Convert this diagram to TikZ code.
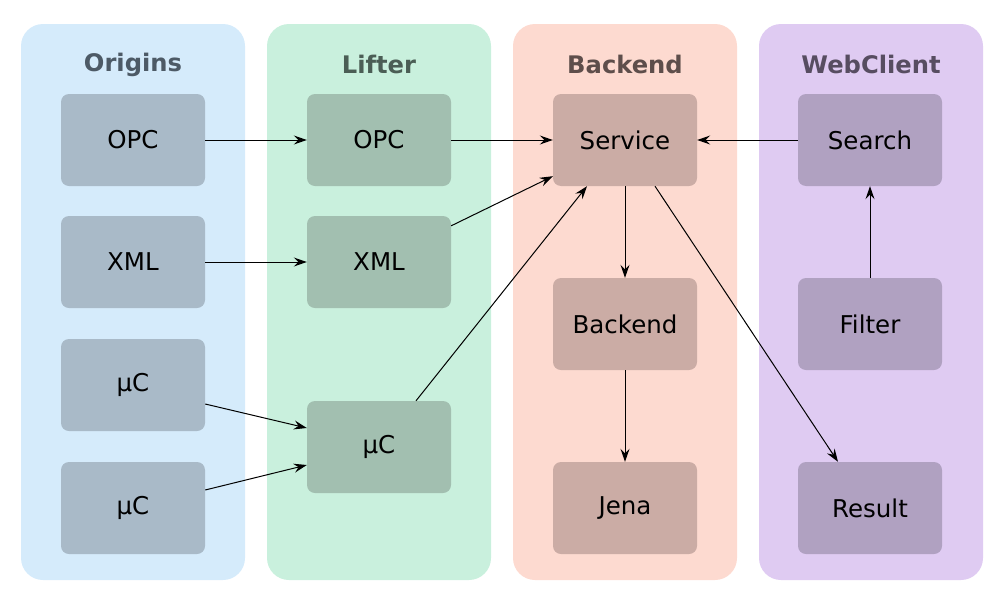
\documentclass[tikz,border=0pt]{standalone}
\usepackage{fontspec}
\setmainfont{DejaVu Sans}
\usetikzlibrary{arrows.meta,calc}
\definecolor{bgO}{HTML}{D5EBFB}
\definecolor{ndO}{HTML}{A9BAC8}
\definecolor{ttO}{HTML}{4D5A66}
\definecolor{bgL}{HTML}{C9F0DD}
\definecolor{ndL}{HTML}{A2BFB0}
\definecolor{ttL}{HTML}{4B5E55}
\definecolor{bgB}{HTML}{FDDAD0}
\definecolor{ndB}{HTML}{CBACA5}
\definecolor{ttB}{HTML}{5E4E4B}
\definecolor{bgW}{HTML}{DFCBF2}
\definecolor{ndW}{HTML}{B0A1C1}
\definecolor{ttW}{HTML}{574D61}
\tikzset{
  lane/.style={rounded corners=22pt},
  box/.style={rectangle, rounded corners=8pt, minimum width=144pt, minimum height=92pt, inner sep=0pt, font=\fontsize{24.5}{28}\selectfont, text=black},
  title/.style={anchor=base, inner sep=0pt, font=\fontsize{24.2}{28}\selectfont\bfseries},
  conn/.style={line width=1pt, -{Stealth[length=13pt,width=9pt,inset=4.5pt]}}
}
\begin{document}
\begin{tikzpicture}[x=1pt,y=-1pt]
\useasboundingbox (0,0) rectangle (1000,608);
% lanes
\fill[bgO,lane] (21,24) rectangle (245,580);
\fill[bgL,lane] (267,24) rectangle (491,580);
\fill[bgB,lane] (513,24) rectangle (737,580);
\fill[bgW,lane] (759,24) rectangle (983,580);
% titles
\node[title,text=ttO] (tO) at (133,71) {Origins};
\node[title,text=ttL] (tL) at (379,73) {Lifter};
\node[title,text=ttB] (tB) at (625,73) {Backend};
\node[title,text=ttW] (tW) at (871,73) {WebClient};
% origins
\node[box,fill=ndO] (o1) at (133,140) {OPC};
\node[box,fill=ndO] (o2) at (133,262) {XML};
\node[box,fill=ndO] (o3) at (133,385) {µC};
\node[box,fill=ndO] (o4) at (133,508) {µC};
% lifter
\node[box,fill=ndL] (l1) at (379,140) {OPC};
\node[box,fill=ndL] (l2) at (379,262) {XML};
\node[box,fill=ndL] (l3) at (379,447) {µC};
% backend
\node[box,fill=ndB] (b1) at (625,140) {Service};
\node[box,fill=ndB] (b2) at (625,324) {Backend};
\node[box,fill=ndB] (b3) at (625,508) {Jena};
% webclient
\node[box,fill=ndW] (w1) at (870,140) {Search};
\node[box,fill=ndW] (w2) at (870,324) {Filter};
\node[box,fill=ndW] (w3) at (870,508) {Result};
% connectors
\draw[conn] (o1.east) -- (l1.west);
\draw[conn] (o2.east) -- (l2.west);
\draw[conn] ($(o3.east)+(0,19)$) -- ($(l3.west)+(0,-19)$);
\draw[conn] ($(o4.east)+(0,-18)$) -- ($(l3.west)+(0,18)$);
\draw[conn] (l1.east) -- (b1.west);
\draw[conn] ($(l2.north east)+(0,10)$) -- ($(b1.south west)+(0,-10)$);
\draw[conn] ($(l3.north)+(37,0)$) -- ($(b1.south)+(-38,0)$);
\draw[conn] (w1.west) -- (b1.east);
\draw[conn] (b1.south) -- (b2.north);
\draw[conn] (b2.south) -- (b3.north);
\draw[conn] ($(b1.south)+(30,0)$) -- ($(w3.north)+(-32,0)$);
\draw[conn] (w2.north) -- (w1.south);
\end{tikzpicture}
\end{document}
